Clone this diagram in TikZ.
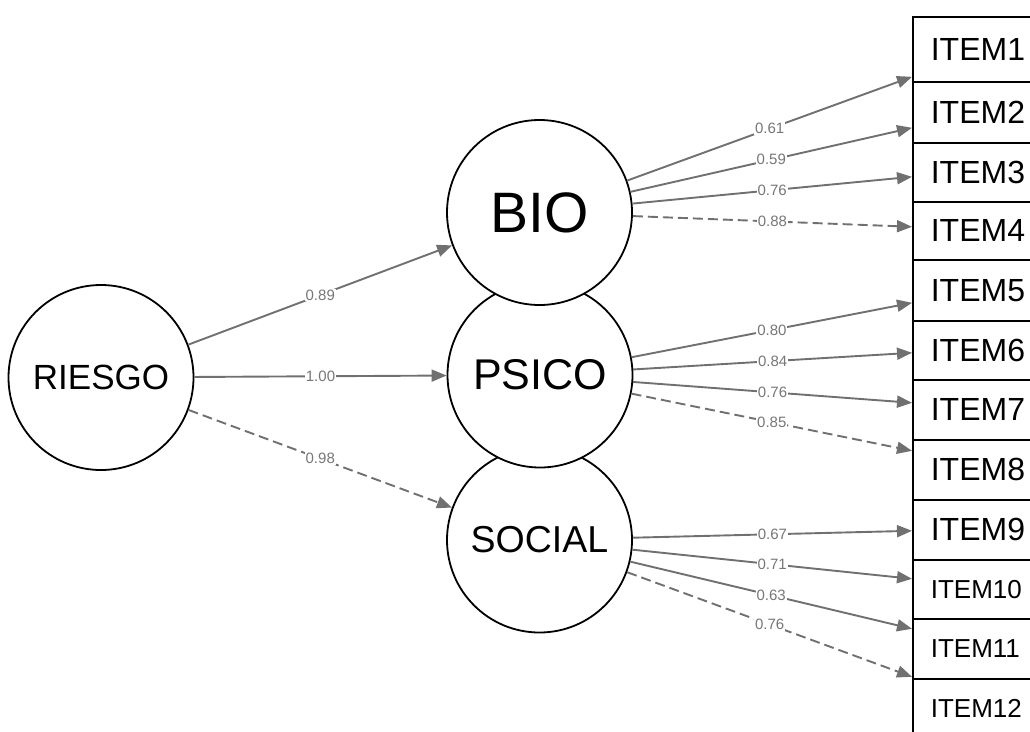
\documentclass[tikz,border=0pt]{standalone}
\usepackage{fontspec}
\setmainfont{Liberation Sans}
\usetikzlibrary{arrows.meta,calc}

\definecolor{edgegray}{HTML}{707070}
\definecolor{lblgray}{HTML}{777777}

\begin{document}
\begin{tikzpicture}[
  x=1pt, y=-1pt,
  latent/.style={circle, draw, fill=white, line width=1.8pt, minimum size=185pt, inner sep=0pt},
  item/.style={draw, line width=1.6pt, anchor=north west, minimum width=160pt, text width=124pt, inner xsep=18pt, inner ysep=0pt, align=left, font=\fontsize{32}{34}\selectfont},
  smallitem/.style={item, font=\fontsize{26}{28}\selectfont},
  load/.style={draw=edgegray, line width=1.9pt, -{Triangle[length=15pt, width=12pt]}},
  fixload/.style={load, dash pattern=on 10pt off 5pt},
  lbl/.style={midway, fill=white, text=lblgray, inner sep=1pt, font=\fontsize{15}{15}\selectfont}
]
\useasboundingbox (0,0) rectangle (1030,731);
% Latent factors (lower circles first, upper ones cover them)
\node[latent, font=\fontsize{35}{37}\selectfont] (riesgo) at (101, 377.5) {RIESGO};
\node[latent, font=\fontsize{37.5}{40}\selectfont] (social) at (539.5, 540) {SOCIAL};
\node[latent, font=\fontsize{43}{45}\selectfont] (psico) at (540, 375) {PSICO};
\node[latent, font=\fontsize{57}{60}\selectfont] (bio) at (539.5, 212.5) {BIO};
% Observed items
\node[item, minimum height=65pt] (item1) at (912, 16) {ITEM1};
\node[item, minimum height=61pt] (item2) at (912, 81) {ITEM2};
\node[item, minimum height=59pt] (item3) at (912, 142) {ITEM3};
\node[item, minimum height=58pt] (item4) at (912, 201) {ITEM4};
\node[item, minimum height=61pt] (item5) at (912, 259) {ITEM5};
\node[item, minimum height=59pt] (item6) at (912, 320) {ITEM6};
\node[item, minimum height=60pt] (item7) at (912, 379) {ITEM7};
\node[item, minimum height=60pt] (item8) at (912, 439) {ITEM8};
\node[item, minimum height=60pt] (item9) at (912, 499) {ITEM9};
\node[smallitem, minimum height=59pt] (item10) at (912, 559) {ITEM10};
\node[smallitem, minimum height=60pt] (item11) at (912, 618) {ITEM11};
\node[smallitem, minimum height=60pt] (item12) at (912, 678) {ITEM12};
% Second order loadings
\draw[load] (riesgo) -- (bio) node[lbl] {0.89};
\draw[load] (riesgo) -- (psico) node[lbl] {1.00};
\draw[fixload] (riesgo) -- (social) node[lbl] {0.98};
% First order loadings
\draw[load] (bio) -- ($(item1.west)+(0,27.5)$) node[lbl] {0.61};
\draw[load] (bio) -- ($(item2.west)+(0,15.5)$) node[lbl] {0.59};
\draw[load] (bio) -- ($(item3.west)+(0,4.5)$) node[lbl] {0.76};
\draw[fixload] (bio) -- ($(item4.west)+(0,-4)$) node[lbl] {0.88};
\draw[load] (psico) -- ($(item5.west)+(0,12.5)$) node[lbl] {0.80};
\draw[load] (psico) -- ($(item6.west)+(0,2.5)$) node[lbl] {0.84};
\draw[load] (psico) -- ($(item7.west)+(0,-7)$) node[lbl] {0.76};
\draw[fixload] (psico) -- ($(item8.west)+(0,-19)$) node[lbl] {0.85};
\draw[load] (social) -- ($(item9.west)+(0,1)$) node[lbl] {0.67};
\draw[load] (social) -- ($(item10.west)+(0,-10.5)$) node[lbl] {0.71};
\draw[load] (social) -- ($(item11.west)+(0,-20)$) node[lbl] {0.63};
\draw[fixload] (social) -- ($(item12.west)+(0,-32)$) node[lbl] {0.76};
\end{tikzpicture}
\end{document}
